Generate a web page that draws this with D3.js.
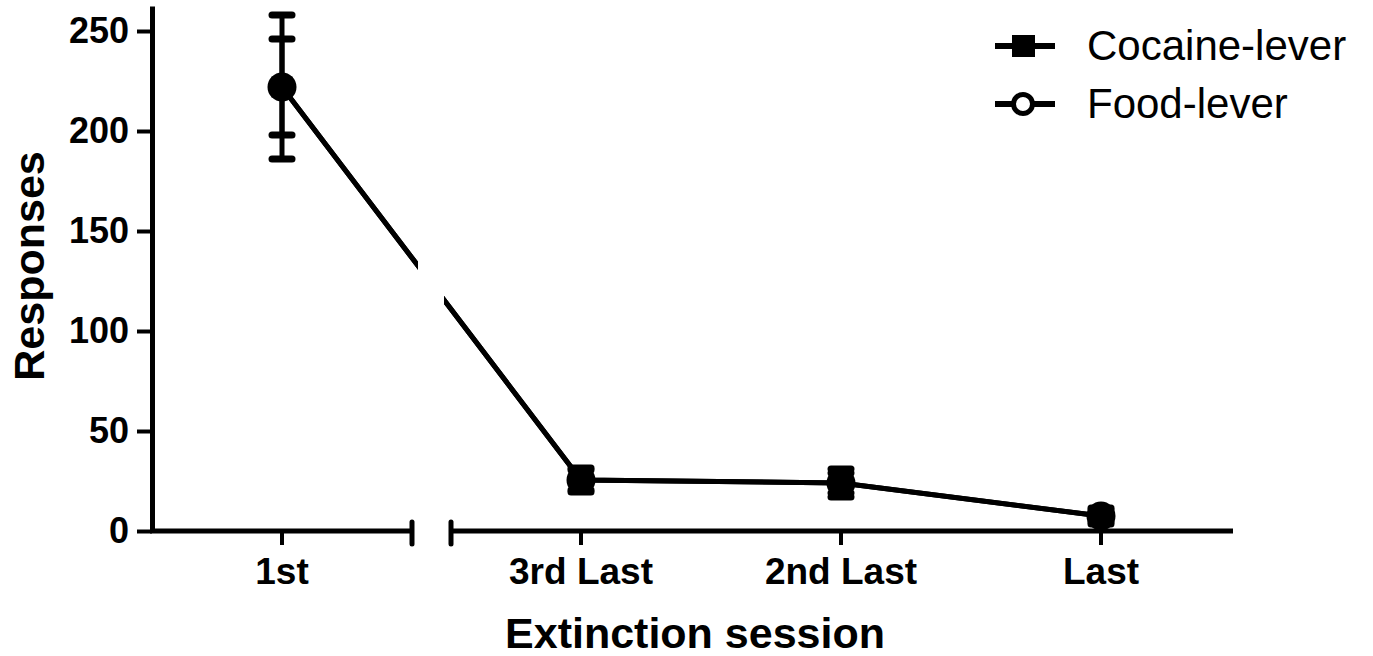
<!DOCTYPE html>
<html>
<head>
<meta charset="utf-8">
<script src="https://cdn.jsdelivr.net/npm/d3@7"></script>
<style>
  body { margin: 0; background: #fff; }
  svg { display: block; font-family: Arial, "Liberation Sans", sans-serif; }
</style>
</head>
<body>
<div id="chart"></div>
<script>
// Extinction responses, cocaine vs food lever (broken x axis after 1st session)

const categories = ["1st", "3rd Last", "2nd Last", "Last"];
const cocaineMean = [222, 25.5, 24, 7.5];
const cocaineSem = [36, 6, 7, 4];
const foodMean = [222, 25.5, 24, 7.5];
const foodSem = [24, 5, 5, 3];
const yTicks = [0, 50, 100, 150, 200, 250];
const seriesNames = ["Cocaine-lever", "Food-lever"];

const width = 1373, height = 656;

const svg = d3.select("#chart")
    .append("svg")
    .attr("width", width)
    .attr("height", height);

// Scales: first category sits alone before the axis break
const xFirst = d3.scaleBand().domain(categories.slice(0, 1)).range([152, 412]);
const xRest = d3.scaleBand().domain(categories.slice(1)).range([451, 1231]);
const x = c => c === categories[0]
    ? xFirst(c) + xFirst.bandwidth() / 2
    : xRest(c) + xRest.bandwidth() / 2;

const y = d3.scaleLinear().domain([0, 262.5]).range([531, 6]);

// Axes
function styleAxis(g) {
    g.select(".domain").attr("stroke", "#000").attr("stroke-width", 5);
    g.selectAll(".tick line").attr("stroke", "#000").attr("stroke-width", 4);
    g.selectAll(".tick text")
        .attr("fill", "#000")
        .style("font-size", "37px")
        .style("font-weight", "bold");
}

svg.append("g")
    .attr("transform", "translate(0,531)")
    .call(d3.axisBottom(xFirst).tickSize(14).tickSizeOuter(0).tickPadding(13))
    .call(styleAxis)
    .call(g => g.select(".domain").attr("d", "M150,0H412"));

svg.append("g")
    .attr("transform", "translate(0,531)")
    .call(d3.axisBottom(xRest).tickSize(14).tickSizeOuter(0).tickPadding(13))
    .call(styleAxis)
    .call(g => g.select(".domain").attr("d", "M451,0H1233"));

// break caps
svg.append("g")
    .selectAll("line")
    .data([412, 451])
    .enter()
    .append("line")
    .attr("x1", d => d).attr("x2", d => d)
    .attr("y1", 522).attr("y2", 544)
    .attr("stroke", "#000")
    .attr("stroke-width", 5)
    .attr("stroke-linecap", "round");

svg.append("g")
    .attr("transform", "translate(152,0)")
    .call(d3.axisLeft(y).tickValues(yTicks).tickSize(15).tickSizeOuter(0).tickPadding(8))
    .call(styleAxis)
    .call(g => g.selectAll(".tick text").style("font-size", "36px"));

// Axis titles
svg.append("text")
    .attr("transform", "translate(44,266) rotate(-90)")
    .attr("text-anchor", "middle")
    .style("font-size", "43px")
    .style("font-weight", "bold")
    .text("Responses");

svg.append("text")
    .attr("x", 695)
    .attr("y", 648)
    .attr("text-anchor", "middle")
    .style("font-size", "43px")
    .style("font-weight", "bold")
    .text("Extinction session");

// Clip the line through the axis break
svg.append("clipPath")
    .attr("id", "breakClip")
    .selectAll("rect")
    .data([[0, 418], [444, width]])
    .enter()
    .append("rect")
    .attr("x", d => d[0])
    .attr("width", d => d[1] - d[0])
    .attr("y", 0)
    .attr("height", height);

const line = d3.line()
    .x((d, i) => x(categories[i]))
    .y(d => y(d));

const series = [
    { name: seriesNames[0], mean: cocaineMean, sem: cocaineSem },
    { name: seriesNames[1], mean: foodMean, sem: foodSem }
];

const plot = svg.append("g");

series.forEach(s => {
    plot.append("path")
        .datum(s.mean)
        .attr("d", line)
        .attr("fill", "none")
        .attr("stroke", "#000")
        .attr("stroke-width", 5)
        .attr("clip-path", "url(#breakClip)");
});

// Error bars
series.forEach(s => {
    const eb = plot.append("g")
        .selectAll("g")
        .data(s.mean.map((m, i) => ({ c: categories[i], m, e: s.sem[i] })))
        .enter()
        .append("g");

    eb.append("line")
        .attr("x1", d => x(d.c)).attr("x2", d => x(d.c))
        .attr("y1", d => y(d.m + d.e)).attr("y2", d => y(d.m - d.e))
        .attr("stroke", "#000").attr("stroke-width", 5);

    ["+", "-"].forEach(sign => {
        eb.append("line")
            .attr("x1", d => x(d.c) - 10).attr("x2", d => x(d.c) + 10)
            .attr("y1", d => y(sign === "+" ? d.m + d.e : d.m - d.e))
            .attr("y2", d => y(sign === "+" ? d.m + d.e : d.m - d.e))
            .attr("stroke", "#000").attr("stroke-width", 7)
            .attr("stroke-linecap", "round");
    });
});

// Markers: food circles underneath, cocaine squares on top
plot.append("g")
    .selectAll("circle")
    .data(foodMean)
    .enter()
    .append("circle")
    .attr("cx", (d, i) => x(categories[i]))
    .attr("cy", d => y(d))
    .attr("r", 12)
    .attr("fill", "#fff")
    .attr("stroke", "#000")
    .attr("stroke-width", 5);

plot.append("g")
    .selectAll("rect")
    .data(cocaineMean)
    .enter()
    .append("rect")
    .attr("x", (d, i) => x(categories[i]) - 10.5)
    .attr("y", d => y(d) - 10.5)
    .attr("width", 21)
    .attr("height", 21)
    .attr("fill", "#000");

// Legend
const legend = svg.append("g");
const legendRows = legend.selectAll("g")
    .data(seriesNames)
    .enter()
    .append("g")
    .attr("transform", (d, i) => `translate(0,${46 + i * 58})`);

legendRows.append("line")
    .attr("x1", 995).attr("x2", 1055)
    .attr("y1", 0).attr("y2", 0)
    .attr("stroke", "#000")
    .attr("stroke-width", 6);

legendRows.filter((d, i) => i === 0)
    .append("rect")
    .attr("x", 1012).attr("y", -11)
    .attr("width", 23).attr("height", 22)
    .attr("fill", "#000");

legendRows.filter((d, i) => i === 1)
    .append("circle")
    .attr("cx", 1023).attr("cy", 0)
    .attr("r", 9.5)
    .attr("fill", "#fff")
    .attr("stroke", "#000")
    .attr("stroke-width", 5);

legendRows.append("text")
    .attr("x", 1087)
    .attr("y", 14)
    .style("font-size", "42px")
    .text(d => d);
</script>
</body>
</html>
